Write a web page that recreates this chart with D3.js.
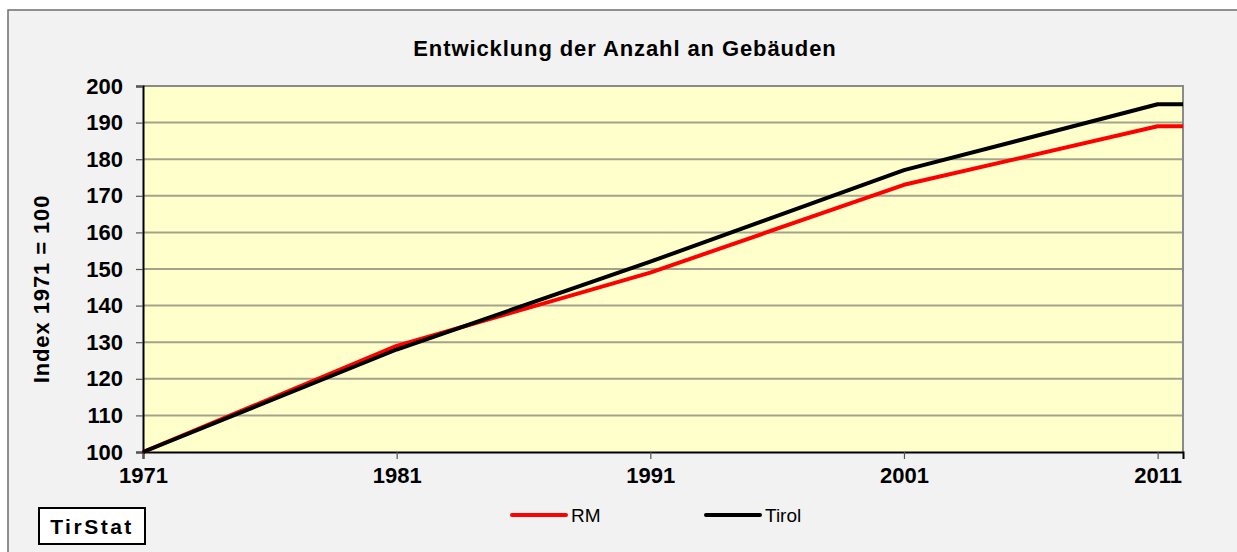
<!DOCTYPE html>
<html>
<head>
<meta charset="utf-8">
<script src="https://cdn.jsdelivr.net/npm/d3@7"></script>
<style>
  html, body { margin: 0; padding: 0; background: #ffffff; }
  svg { display: block; font-family: "Liberation Sans", Arial, sans-serif; }
</style>
</head>
<body>
<div id="chart"></div>
<script>
const years = [1971, 1981, 1991, 2001, 2011, 2012];
const rmValues = [100, 129, 149, 173, 189, 189];
const tirolValues = [100, 128, 152, 177, 195, 195];
const xTicks = [1971, 1981, 1991, 2001, 2011];
const yTicks = [100, 110, 120, 130, 140, 150, 160, 170, 180, 190, 200];
const seriesNames = ['RM', 'Tirol'];
const seriesColors = ['#ff0000', '#000000'];

const width = 1237;
const height = 552;
const plot = { left: 143, top: 86, right: 1183, bottom: 452 };

const svg = d3.select('#chart')
  .append('svg')
  .attr('width', width)
  .attr('height', height);

// outer frame
svg.append('rect')
  .attr('x', 8).attr('y', 10)
  .attr('width', width + 10).attr('height', height)
  .attr('fill', '#f2f2f2')
  .attr('stroke', '#6e6e6e')
  .attr('stroke-width', 1.5);

const x = d3.scaleLinear().domain([1971, 2012]).range([plot.left, plot.right]);
const y = d3.scaleLinear().domain([100, 200]).range([plot.bottom, plot.top]);

// plot background
svg.append('rect')
  .attr('x', plot.left).attr('y', plot.top)
  .attr('width', plot.right - plot.left)
  .attr('height', plot.bottom - plot.top)
  .attr('fill', '#ffffcc');

// gridlines
svg.append('g')
  .selectAll('line')
  .data(yTicks.filter(d => d > 100 && d < 200))
  .enter()
  .append('line')
  .attr('x1', plot.left).attr('x2', plot.right)
  .attr('y1', d => y(d)).attr('y2', d => y(d))
  .attr('stroke', '#a3a38c')
  .attr('stroke-width', 2);

// top and right border (grey)
svg.append('path')
  .attr('d', `M${plot.left},${plot.top}H${plot.right}V${plot.bottom}`)
  .attr('fill', 'none')
  .attr('stroke', '#8a8a8a')
  .attr('stroke-width', 2);

// y axis
const yAxis = svg.append('g')
  .attr('transform', `translate(${plot.left},0)`)
  .call(d3.axisLeft(y).tickValues(yTicks).tickSize(7).tickPadding(13));
yAxis.select('.domain').attr('stroke', '#000').attr('stroke-width', 2);
yAxis.selectAll('.tick line').attr('stroke', '#555').attr('stroke-width', 1.2);
yAxis.selectAll('.tick text')
  .attr('font-size', 22).attr('font-weight', 'bold').attr('fill', '#000')
  .attr('font-family', '"Liberation Sans", Arial, sans-serif');

// x axis
const xAxis = svg.append('g')
  .attr('transform', `translate(0,${plot.bottom})`)
  .call(d3.axisBottom(x).tickValues(xTicks).tickFormat(d3.format('d')).tickSize(7).tickPadding(8));
xAxis.select('.domain').attr('stroke', '#000').attr('stroke-width', 2);
xAxis.selectAll('.tick line').attr('stroke', '#555').attr('stroke-width', 1.2);
xAxis.selectAll('.tick text')
  .attr('font-size', 22).attr('font-weight', 'bold').attr('fill', '#000')
  .attr('font-family', '"Liberation Sans", Arial, sans-serif');

// lines
const series = [rmValues, tirolValues];
const line = d3.line()
  .x((d, i) => x(years[i]))
  .y(d => y(d));

svg.append('g')
  .selectAll('path')
  .data(series)
  .enter()
  .append('path')
  .attr('d', line)
  .attr('fill', 'none')
  .attr('stroke', (_, i) => seriesColors[i])
  .attr('stroke-width', 4)
  .attr('stroke-linejoin', 'round');

// title
svg.append('text')
  .attr('x', 625).attr('y', 56)
  .attr('text-anchor', 'middle')
  .attr('font-size', 22).attr('font-weight', 'bold')
  .attr('letter-spacing', 0.9)
  .text('Entwicklung der Anzahl an Gebäuden');

// y axis title
svg.append('text')
  .attr('transform', 'translate(49,289) rotate(-90)')
  .attr('text-anchor', 'middle')
  .attr('font-size', 22).attr('font-weight', 'bold')
  .attr('letter-spacing', 0.9)
  .text('Index 1971 = 100');

// legend
const legendX = [512, 706];
const legend = svg.append('g')
  .selectAll('g')
  .data(seriesNames)
  .enter()
  .append('g')
  .attr('transform', (_, i) => `translate(${legendX[i]},515)`);
legend.append('line')
  .attr('x1', 0).attr('x2', 54)
  .attr('stroke', (_, i) => seriesColors[i])
  .attr('stroke-width', 4)
  .attr('stroke-linecap', 'round');
legend.append('text')
  .attr('x', 59).attr('y', 7)
  .attr('font-size', 19)
  .text(d => d);

// TirStat box
svg.append('rect')
  .attr('x', 39).attr('y', 508)
  .attr('width', 106).attr('height', 36)
  .attr('fill', '#fff')
  .attr('stroke', '#000')
  .attr('stroke-width', 2);
svg.append('text')
  .attr('x', 92).attr('y', 534)
  .attr('text-anchor', 'middle')
  .attr('font-size', 21).attr('font-weight', 'bold')
  .attr('letter-spacing', 2.5)
  .text('TirStat');
</script>
</body>
</html>
